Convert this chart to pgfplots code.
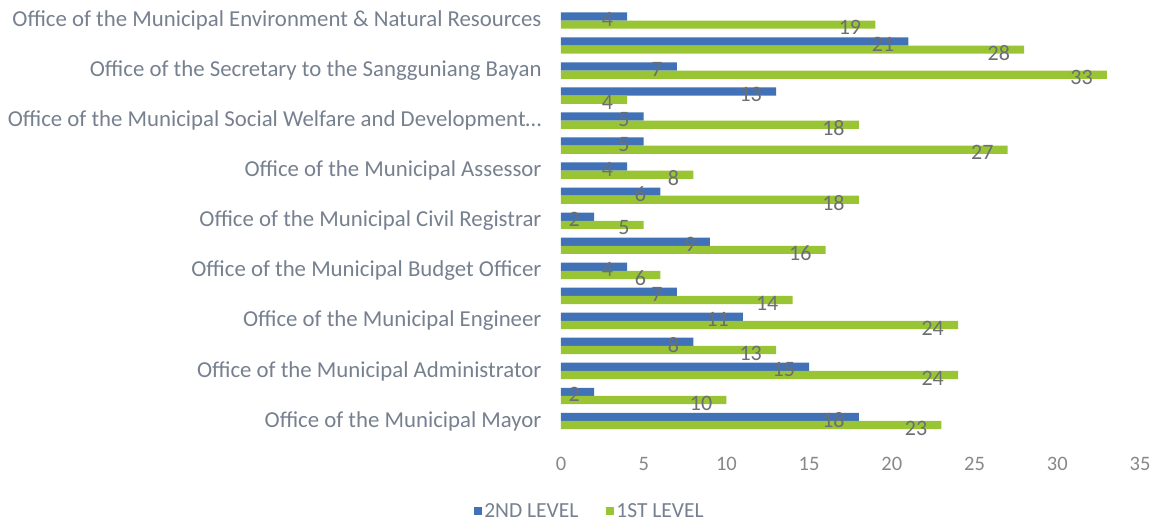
\documentclass[border=0pt]{standalone}
\usepackage{fontspec}
\setmainfont{Carlito}
\usepackage{pgfplots}
\usepackage{pgfplotstable}
\pgfplotsset{compat=1.18}

\definecolor{lvltwo}{RGB}{65,113,182}
\definecolor{lvlone}{RGB}{153,196,52}
\definecolor{labgray}{RGB}{118,128,143}
\definecolor{numgray}{RGB}{108,110,116}
\definecolor{tickgray}{RGB}{135,135,140}

% grp 17 = top row, grp 1 = bottom row
\pgfplotstableread{
grp second first
17 4 19
16 21 28
15 7 33
14 13 4
13 5 18
12 5 27
11 4 8
10 6 18
9 2 5
8 9 16
7 4 6
6 7 14
5 11 24
4 8 13
3 15 24
2 2 10
1 18 23
}\datatable

\begin{document}
\begin{tikzpicture}
\begin{axis}[
  scale only axis, width=579pt, height=425.5pt,
  xmin=0, xmax=35, ymin=0.5, ymax=17.5,
  xbar, bar width=8.2pt,
  axis line style={draw=none}, major tick length=0pt,
  xtick={0,5,...,35},
  ytick={1,3,...,17},
  yticklabels={{Office of the Municipal Mayor},
    {Office of the Municipal Administrator},
    {Office of the Municipal Engineer},
    {Office of the Municipal Budget Officer},
    {Office of the Municipal Civil Registrar},
    {Office of the Municipal Assessor},
    {Office of the Municipal Social Welfare and Development\ldots},
    {Office of the Secretary to the Sangguniang Bayan},
    {Office of the Municipal Environment \& Natural Resources}},
  /pgf/number format/assume math mode=true,
  yticklabel style={font=\fontsize{22.8}{26}\selectfont, text=labgray, xshift=-16pt},
  xticklabel style={font=\fontsize{20.5}{24}\selectfont, text=tickgray, yshift=-20pt},
  nodes near coords,
  nodes near coords style={anchor=east, inner sep=0pt, xshift=-14pt, yshift=-3pt,
    font=\fontsize{22}{24}\selectfont, text=numgray},
  legend columns=2,
  legend style={at={(0.05,-0.182)}, anchor=center, draw=none,
    font=\fontsize{21.5}{24}\selectfont, text=labgray,
    /tikz/every even column/.append style={column sep=26pt}},
  legend image code/.code={\fill[#1, draw=none] (0pt,-4pt) rectangle (8pt,4pt);},
]
\addplot[fill=lvltwo, draw=none, bar shift=4.1pt] table[x=second, y=grp]{\datatable};
\addlegendentry{2ND LEVEL}
\addplot[fill=lvlone, draw=none, bar shift=-4.1pt] table[x=first, y=grp]{\datatable};
\addlegendentry{1ST LEVEL}
\end{axis}
\pgfresetboundingbox
\path (-561pt,-94.5pt) rectangle (601pt,433.5pt);
\end{tikzpicture}
\end{document}
